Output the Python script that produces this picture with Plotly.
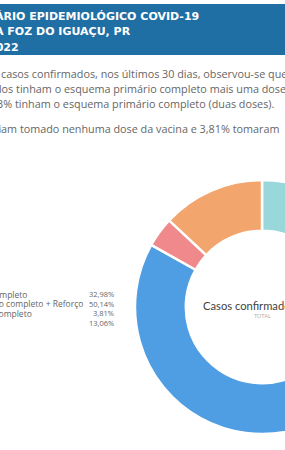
import plotly.graph_objects as go

# ---------------- data ----------------
categories = ["Esquema primário completo", "Esquema primário completo + Reforço",
              "Esquema primário incompleto", "Nenhuma dose"]
values = [32.98, 50.14, 3.81, 13.06]
value_labels = ["32,98%", "50,14%", "3,81%", "13,06%"]
colors = ["#98d8da", "#4f9de2", "#ef898b", "#f2a56d"]

header_lines = ["ÁRIO EPIDEMIOLÓGICO COVID-19", "A FOZ DO IGUAÇU, PR", "2022"]
paragraph_lines = [
    "casos confirmados, nos últimos 30 dias, observou-se que",
    "dos tinham o esquema primário completo mais uma dose",
    "3% tinham o esquema primário completo (duas doses).",
    "viam tomado nenhuma dose da vacina e 3,81% tomaram",
]
center_title = "Casos confirmados"
center_sub = "TOTAL"

# ---------------- layout ----------------
W, H = 400, 450
LPAD, RPAD = 6, 3   # annotation box padding compensation


def px(x):
    return x / W


def py(y):
    return 1 - y / H


fig = go.Figure()

# donut
cx, cy, r = 262, 307, 127
fig.add_trace(go.Pie(
    labels=categories, values=values,
    hole=0.6, sort=False, direction="clockwise", rotation=0,
    marker=dict(colors=colors, line=dict(color="white", width=2.5)),
    textinfo="none", hoverinfo="label+percent", showlegend=False,
    domain=dict(x=[px(cx - r), px(cx + r)], y=[py(cy + r), py(cy - r)]),
))

annotations = []


def add_ann(x, y, text, anchor, family, size, color, weight="normal"):
    if anchor == "left":
        x -= LPAD
    elif anchor == "right":
        x += RPAD
    annotations.append(dict(
        x=px(x), y=py(y), xref="paper", yref="paper", xanchor=anchor, yanchor="middle",
        showarrow=False, text=text,
        font=dict(family=family, size=size, color=color, weight=weight)))


# header text
for t, x, y in zip(header_lines, [-1, -1, -8.5], [16, 31.5, 47]):
    add_ann(x, y, t, "left", "DejaVu Sans", 11, "white", "bold")

# paragraph
for t, x, y in zip(paragraph_lines, [5, -1, 1, -3], [73, 88.5, 104, 128]):
    add_ann(x, y, t, "left", "Open Sans", 10.8, "#666666")

# legend
leg_y = [294, 303.5, 313, 322.5]
for lab, val, y, xe in zip(categories, value_labels, leg_y, [26, 82, 31, -4]):
    add_ann(xe, y, lab, "right", "Open Sans", 8.5, "#666666")
    add_ann(113, y, val, "right", "Open Sans", 7.5, "#666666")

# center text
add_ann(207, 305, center_title, "left", "Lato", 11.2, "#3f3f3f")
add_ann(cx, 316, center_sub, "center", "Lato", 5.5, "#b0b0b0")

fig.update_layout(
    width=W, height=H, margin=dict(l=0, r=0, t=0, b=0),
    paper_bgcolor="white", plot_bgcolor="white",
    annotations=annotations,
    shapes=[dict(type="rect", xref="paper", yref="paper", x0=0, x1=1,
                 y0=py(55), y1=py(4), fillcolor="#1f6fa4", line=dict(width=0), layer="below")],
)

fig.write_html(
    "out.html",
    config={"displayModeBar": False},
    post_script="document.documentElement.style.overflow='hidden';"
                "document.body.style.overflow='hidden';document.body.style.margin='0';",
)
